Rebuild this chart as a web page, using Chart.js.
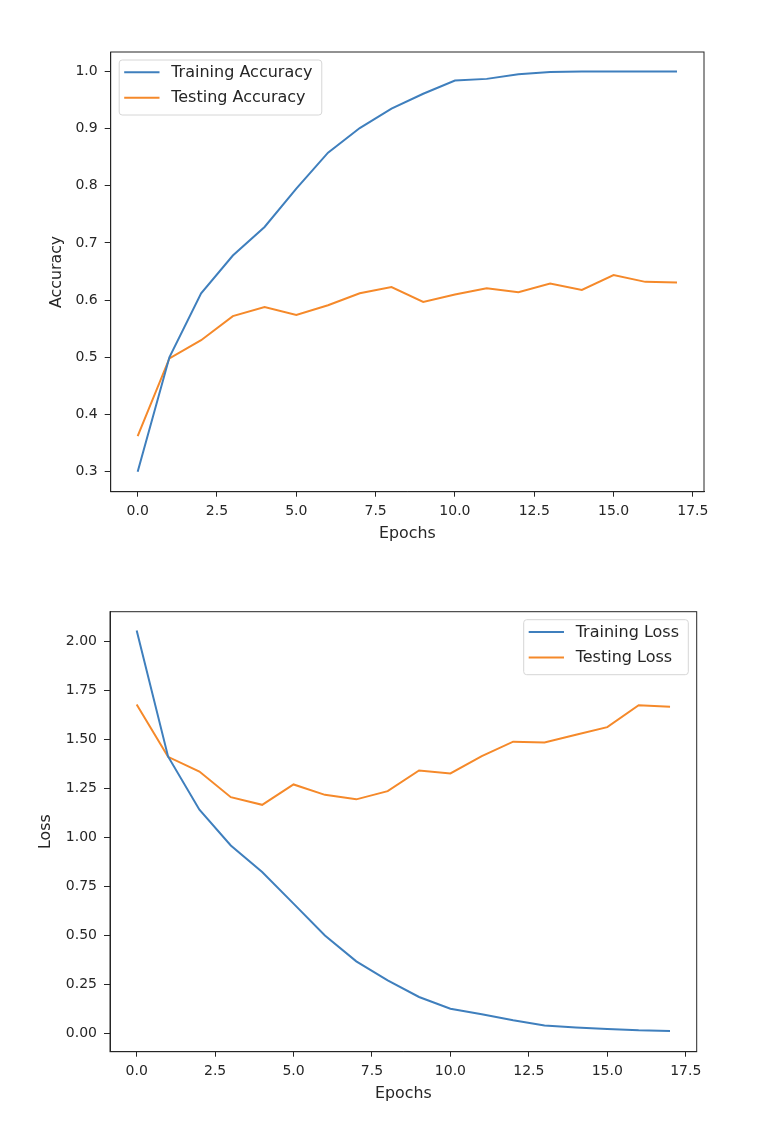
<!DOCTYPE html>
<html>
<head>
<meta charset="utf-8">
<script src="https://cdn.jsdelivr.net/npm/chart.js@4.4.1/dist/chart.umd.min.js"></script>
<style>
  body { margin: 0; background: #fff; }
  .panel { position: absolute; left: 0; width: 758px; height: 564px; }
</style>
</head>
<body>
<div class="panel" style="top:0"><canvas id="accChart"></canvas></div>
<div class="panel" style="top:564px"><canvas id="lossChart"></canvas></div>
<script>
// values
var epochs = [0, 1, 2, 3, 4, 5, 6, 7, 8, 9, 10, 11, 12, 13, 14, 15, 16, 17];
var trainAcc = [0.300, 0.500, 0.612, 0.678, 0.728, 0.795, 0.858, 0.901, 0.935, 0.961, 0.984, 0.987, 0.995, 0.999, 1.0, 1.0, 1.0, 1.0];
var testAcc = [0.362, 0.498, 0.530, 0.572, 0.588, 0.574, 0.591, 0.612, 0.623, 0.597, 0.610, 0.621, 0.614, 0.629, 0.618, 0.644, 0.632, 0.631];
var trainLoss = [2.056, 1.414, 1.142, 0.960, 0.824, 0.663, 0.501, 0.369, 0.272, 0.187, 0.127, 0.099, 0.068, 0.042, 0.032, 0.024, 0.017, 0.014];
var testLoss = [1.679, 1.412, 1.337, 1.206, 1.167, 1.271, 1.218, 1.195, 1.237, 1.342, 1.327, 1.415, 1.489, 1.485, 1.524, 1.563, 1.675, 1.667];

var epochTicks = [0, 2.5, 5, 7.5, 10, 12.5, 15, 17.5];
var accTicks = [0.3, 0.4, 0.5, 0.6, 0.7, 0.8, 0.9, 1.0];
var lossTicks = [0, 0.25, 0.5, 0.75, 1.0, 1.25, 1.5, 1.75, 2.0];

var BLUE = '#3f7fbd';
var ORANGE = '#f5892a';
var INK = '#262626';
var TICK_FONT = { family: 'DejaVu Sans', size: 14 };
var LABEL_FONT = { family: 'DejaVu Sans', size: 15.8 };
var LEGEND_PX = 16;

function points(ys) {
  return epochs.map(function (e, i) { return { x: e, y: ys[i] }; });
}

// black box round the plot area, like the matplotlib spines
var frame = {
  id: 'frame',
  afterDatasetsDraw: function (chart) {
    var a = chart.chartArea, ctx = chart.ctx;
    ctx.save();
    ctx.strokeStyle = INK;
    ctx.lineWidth = 1;
    ctx.strokeRect(a.left, a.top, a.right - a.left, a.bottom - a.top);
    ctx.restore();
  }
};

// legend drawn inside the axes
var insideLegend = {
  id: 'insideLegend',
  afterDraw: function (chart, args, opts) {
    var a = chart.chartArea, ctx = chart.ctx;
    var sets = chart.data.datasets;
    ctx.save();
    ctx.font = LEGEND_PX + 'px "DejaVu Sans"';
    var tw = 0;
    sets.forEach(function (d) { tw = Math.max(tw, ctx.measureText(d.label).width); });
    var w = 52 + tw + 9.3;
    var h = 55;
    var x = opts.corner === 'right' ? a.right - 8.4 - w : a.left + 8.5;
    var y = a.top + 8;
    ctx.beginPath();
    ctx.roundRect(x, y, w, h, 3);
    ctx.fillStyle = 'rgba(255,255,255,0.8)';
    ctx.fill();
    ctx.strokeStyle = '#d6d6d6';
    ctx.lineWidth = 1;
    ctx.stroke();
    sets.forEach(function (d, i) {
      var ry = y + 12.3 + i * 25.5;
      ctx.beginPath();
      ctx.moveTo(x + 5, ry);
      ctx.lineTo(x + 40.3, ry);
      ctx.strokeStyle = d.borderColor;
      ctx.lineWidth = 2;
      ctx.stroke();
      ctx.fillStyle = INK;
      ctx.textBaseline = 'middle';
      ctx.fillText(d.label, x + 52, ry + 0.5);
    });
    ctx.restore();
  }
};

function makeChart(id, cfg) {
  var ctx = document.getElementById(id).getContext('2d');
  return new Chart(ctx, {
    type: 'line',
    data: {
      datasets: [
        { label: cfg.names[0], data: points(cfg.series[0]), borderColor: BLUE, borderWidth: 2, pointRadius: 0, tension: 0 },
        { label: cfg.names[1], data: points(cfg.series[1]), borderColor: ORANGE, borderWidth: 2, pointRadius: 0, tension: 0 }
      ]
    },
    options: {
      responsive: true,
      maintainAspectRatio: false,
      animation: false,
      events: [],
      layout: { padding: cfg.padding },
      plugins: {
        legend: { display: false },
        tooltip: { enabled: false },
        insideLegend: { corner: cfg.corner }
      },
      scales: {
        x: {
          type: 'linear',
          min: -0.85,
          max: 17.85,
          afterBuildTicks: function (s) { s.ticks = epochTicks.map(function (v) { return { value: v }; }); },
          afterFit: function (s) { s.height = 51.5; },
          ticks: {
            font: TICK_FONT, color: INK, padding: 6, maxRotation: 0,
            callback: function (v) { return v.toFixed(1); }
          },
          grid: { drawOnChartArea: false, drawTicks: true, tickLength: 5, color: INK },
          border: { display: true, color: INK },
          title: { display: true, text: 'Epochs', font: LABEL_FONT, color: INK, padding: 0 }
        },
        y: {
          min: cfg.yMin,
          max: cfg.yMax,
          afterBuildTicks: function (s) { s.ticks = cfg.yTicks.map(function (v) { return { value: v }; }); },
          afterFit: function (s) { s.width = cfg.yWidth; },
          ticks: {
            font: TICK_FONT, color: INK, padding: 7,
            callback: function (v) { return v.toFixed(cfg.digits); }
          },
          grid: { drawOnChartArea: false, drawTicks: true, tickLength: 6, color: INK },
          border: { display: true, color: INK },
          title: { display: true, text: cfg.yTitle, font: LABEL_FONT, color: INK, padding: 0 }
        }
      }
    },
    plugins: [frame, insideLegend]
  });
}

makeChart('accChart', {
  names: ['Training Accuracy', 'Testing Accuracy'],
  series: [trainAcc, testAcc],
  yTicks: accTicks, yMin: 0.265, yMax: 1.034, digits: 1,
  yTitle: 'Accuracy', yWidth: 63.2, corner: 'left',
  padding: { top: 52, right: 54, bottom: 20.8, left: 47.5 }
});

makeChart('lossChart', {
  names: ['Training Loss', 'Testing Loss'],
  series: [trainLoss, testLoss],
  yTicks: lossTicks, yMin: -0.092, yMax: 2.152, digits: 2,
  yTitle: 'Loss', yWidth: 73.5, corner: 'right',
  padding: { top: 47.7, right: 61.3, bottom: 24.8, left: 36.5 }
});
</script>
</body>
</html>
